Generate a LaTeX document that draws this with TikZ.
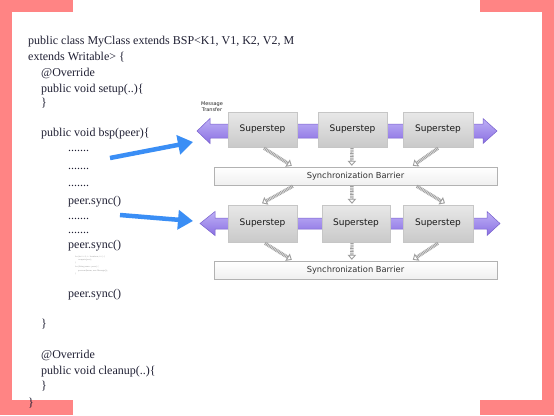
\documentclass[tikz,border=0pt]{standalone}
\usepackage{fontspec}
\setmainfont{Liberation Serif}
\newfontfamily\diagfont{DejaVu Sans}
\usetikzlibrary{arrows.meta,calc}
\definecolor{pinkc}{RGB}{255,132,132}
\definecolor{codec}{RGB}{32,32,52}
\definecolor{purpletop}{RGB}{190,176,246}
\definecolor{purplebot}{RGB}{138,112,226}
\definecolor{purpleedge}{RGB}{120,96,205}
\definecolor{bluec}{RGB}{58,142,245}
\tikzset{
  codeline/.style={anchor=base west, inner sep=0pt, text=codec, font=\fontsize{12}{14}\selectfont},
  superbox/.style={draw=gray!45, top color=gray!18, bottom color=gray!42, minimum height=35pt,
     minimum width=69pt, inner sep=0pt, text=black!90, font=\diagfont\fontsize{9}{10}\selectfont},
  barrier/.style={draw=gray!60, top color=white, bottom color=gray!12, minimum width=283pt,
     minimum height=18pt, inner sep=0pt, text=black!80, font=\diagfont\fontsize{8.3}{9}\selectfont},
  hatcharrow/.style={draw=gray!75, line width=3.4pt, dash pattern=on 0.9pt off 0.7pt,
     -{Triangle[open, length=5pt, width=8.5pt, line width=0.9pt]}},
  bluearrow/.style={draw=bluec, line width=4.5pt, -{Triangle[length=15pt, width=19pt]}},
  purplearrow/.style={draw=purpleedge, line width=0.5pt, top color=purpletop, bottom color=purplebot}
}
\begin{document}
\begin{tikzpicture}[x=1pt,y=-1pt]
\useasboundingbox (0,0) rectangle (554,415);
% frame
\fill[pinkc] (0,0) rectangle (554,415);
\fill[white] (12,12) rectangle (542,400);
\fill[white] (73,0) rectangle (480,12.5);
\fill[white] (73,399.5) rectangle (480,415);

% code text
\node[codeline] (c1) at (28,44) {public class MyClass extends BSP<K1, V1, K2, V2, M};
\node[codeline] (c2) at (28,60) {extends Writable> \{};
\node[codeline] (c3) at (41,76) {@Override};
\node[codeline] (c4) at (41,92) {public void setup(..)\{};
\node[codeline] (c5) at (41,106) {\}};
\node[codeline] (c6) at (41,136) {public void bsp(peer)\{};
\node[codeline] (c7) at (68,151) {.......};
\node[codeline] (c8) at (68,169) {.......};
\node[codeline] (c9) at (68,186) {.......};
\node[codeline] (c10) at (68,204) {peer.sync()};
\node[codeline] (c11) at (68,219) {.......};
\node[codeline] (c12) at (68,233) {.......};
\node[codeline] (c13) at (68,248) {peer.sync()};
\node[anchor=north west, inner sep=0pt, text=gray!80, align=left,
      font=\fontsize{2.2}{3.2}\selectfont] (tiny) at (75,255.5)
  {for (int i = 0; i < iterations; i++) \{\\
   \hspace*{3pt}compute(peer);\\
   \}\\[1pt]
   for (String name : peers) \{\\
   \hspace*{3pt}peer.send(name, new Message());\\
   \}};
\node[codeline] (c14) at (68,297) {peer.sync()};
\node[codeline] (c15) at (41,327) {\}};
\node[codeline] (c16) at (41,358) {@Override};
\node[codeline] (c17) at (41,374) {public void cleanup(..)\{};
\node[codeline] (c18) at (41,389) {\}};
\node[codeline] (c19) at (28,406) {\}};

% purple message transfer arrows
\path[purplearrow] (197,131) -- (210,118.5) -- (210,124) -- (483,124) -- (483,118.5)
  -- (497,131) -- (483,143.5) -- (483,138) -- (210,138) -- (210,143.5) -- cycle;
\path[purplearrow] (200,223.5) -- (215,211.5) -- (215,218) -- (487,218) -- (487,211.5)
  -- (500,223.5) -- (487,235.5) -- (487,229) -- (215,229) -- (215,235.5) -- cycle;

\node[align=center, inner sep=0pt, text=black!85, font=\diagfont\fontsize{5}{6.5}\selectfont]
  (msg) at (212,106.5) {Message\\Transfer};

% row 1
\node[superbox] (s11) at (262.5,129.5) {Superstep};
\node[superbox] (s12) at (352.5,129.5) {Superstep};
\node[superbox, minimum width=70pt] (s13) at (438,129.5) {Superstep};
\node[barrier] (b1) at (355.5,176) {Synchronization Barrier};

% row 2
\node[superbox, minimum height=37pt] (s21) at (262.5,223.5) {Superstep};
\node[superbox, minimum height=37pt, minimum width=68pt] (s22) at (356,223.5) {Superstep};
\node[superbox, minimum height=37pt, minimum width=70pt] (s23) at (438,223.5) {Superstep};
\node[barrier] (b2) at (355.5,270) {Synchronization Barrier};

% hatched arrows
\draw[hatcharrow] ($(s11.south)+(1.5,1)$) -- ($(b1.north west)+(78,-1)$);
\draw[hatcharrow] ($(s12.south)+(-0.5,1)$) -- ($(b1.north west)+(138,-1)$);
\draw[hatcharrow] ($(s13.south)+(0,1)$) -- ($(b1.north west)+(199,-1)$);

\draw[hatcharrow] ($(b1.south west)+(79,1)$) -- ($(s21.north)+(-0.5,-1.5)$);
\draw[hatcharrow] ($(b1.south west)+(138,1)$) -- ($(s22.north)+(-4,-1)$);
\draw[hatcharrow] ($(b1.south west)+(203,1)$) -- ($(s23.north)+(7,-1.5)$);

\draw[hatcharrow] ($(s21.south)+(2.5,1)$) -- ($(b2.north west)+(78,-1)$);
\draw[hatcharrow] ($(s22.south)+(-4,1)$) -- ($(b2.north west)+(138,-1)$);
\draw[hatcharrow] ($(s23.south)+(0,1)$) -- ($(b2.north west)+(199,-1)$);

% blue pointer arrows
\coordinate (p1s) at (110,158);
\coordinate (p1e) at (193,142);
\coordinate (p2s) at (120,215);
\coordinate (p2e) at (193,221);
\draw[bluearrow] (p1s) -- (p1e);
\draw[bluearrow] (p2s) -- (p2e);
\end{tikzpicture}
\end{document}
